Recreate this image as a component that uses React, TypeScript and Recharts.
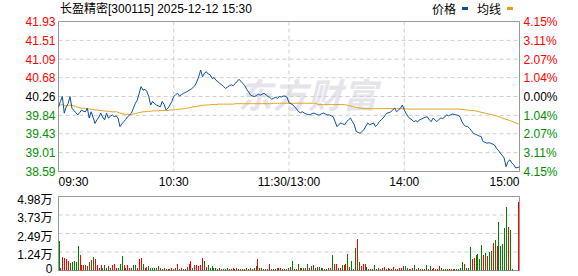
import React from 'react';
import { LineChart, Line, XAxis, YAxis, CartesianGrid, ReferenceArea, BarChart, Bar, Cell } from 'recharts';

const title = '长盈精密[300115] 2025-12-12 15:30';
const prevClose = 40.26;
const priceTicks = [38.59, 39.01, 39.43, 39.84, 40.26, 40.68, 41.09, 41.51, 41.93];
const pctTickLabels = ['4.15%', '3.11%', '2.07%', '1.04%', '0.00%', '1.04%', '2.07%', '3.11%', '4.15%'];
const volTicks = [0, 12450, 24900, 37350, 49800];
const volTickLabels = ['0', '1.24万', '2.49万', '3.73万', '4.98万'];
const xTicks = ['09:30', '10:30', '11:30', '14:00', '15:00'];
const xTickLabels = ['09:30', '10:30', '11:30/13:00', '14:00', '15:00'];

const price = [
  40.03, 40.15, 40.26, 39.89, 40.03, 40.10, 40.26, 40.00, 39.95, 39.90,
  39.85, 39.90, 39.96, 39.93, 39.92, 40.00, 39.78, 39.92, 39.80, 39.66,
  39.74, 39.80, 39.89, 39.80, 39.74, 39.89, 39.78, 39.82, 39.85, 39.81,
  39.83, 39.78, 39.59, 39.65, 39.70, 39.75, 39.81, 39.85, 39.89, 40.00,
  40.11, 40.18, 40.33, 40.48, 40.40, 40.42, 40.37, 40.26, 40.07, 40.15,
  40.10, 40.07, 40.05, 40.03, 40.15, 40.08, 39.96, 40.00, 40.07, 40.15,
  40.26, 40.30, 40.33, 40.27, 40.30, 40.33, 40.35, 40.37, 40.40, 40.42,
  40.46, 40.50, 40.59, 40.70, 40.85, 40.70, 40.78, 40.81, 40.76, 40.74,
  40.66, 40.68, 40.62, 40.59, 40.55, 40.52, 40.48, 40.44, 40.47, 40.50,
  40.52, 40.50, 40.55, 40.60, 40.64, 40.60, 40.55, 40.50, 40.42, 40.36,
  40.29, 40.27, 40.26, 40.28, 40.31, 40.29, 40.31, 40.33, 40.30, 40.26,
  40.24, 40.20, 40.22, 40.24, 40.22, 40.26, 40.25, 40.27, 40.27, 40.24,
  40.12,
  40.10, 40.07, 40.03, 39.98, 39.92, 39.90, 39.92, 39.89, 39.87, 39.86,
  39.85, 39.88, 39.89, 39.87, 39.85, 39.85, 39.88, 39.89, 39.87, 39.85,
  39.85, 39.83, 39.81, 39.70, 39.59, 39.64, 39.67, 39.65, 39.63, 39.70,
  39.74, 39.78, 39.70, 39.63, 39.48, 39.46, 39.44, 39.48, 39.52, 39.60,
  39.67, 39.63, 39.65, 39.67, 39.59, 39.63, 39.70, 39.74, 39.78, 39.84,
  39.89, 39.90, 39.92, 39.96, 40.00, 39.92, 39.96, 40.00, 40.07, 39.96,
  39.88, 39.81, 39.77, 39.74, 39.70, 39.72, 39.70, 39.74, 39.76, 39.78,
  39.80, 39.81, 39.74, 39.70, 39.78, 39.74, 39.70, 39.75, 39.78, 39.77,
  39.80, 39.85, 39.83, 39.85, 39.87, 39.86, 39.85, 39.84, 39.81, 39.70,
  39.63, 39.60, 39.59, 39.55, 39.50, 39.44, 39.42, 39.40, 39.38, 39.37,
  39.26, 39.24, 39.22, 39.23, 39.22, 39.20, 39.18, 39.11, 39.06, 39.00,
  38.95, 38.89, 38.70, 38.81, 38.85, 38.78, 38.74, 38.67, 38.68, 38.69,
];

const avgPrice = [
  40.05, 40.07, 40.08, 40.06, 40.05, 40.05, 40.07, 40.06, 40.05, 40.04,
  40.02, 40.01, 40.00, 40.00, 39.99, 39.99, 39.98, 39.98, 39.97, 39.96,
  39.96, 39.95, 39.95, 39.94, 39.94, 39.93, 39.93, 39.93, 39.92, 39.92,
  39.92, 39.91, 39.89, 39.88, 39.87, 39.86, 39.86, 39.86, 39.86, 39.87,
  39.88, 39.89, 39.90, 39.91, 39.92, 39.92, 39.93, 39.93, 39.93, 39.94,
  39.94, 39.94, 39.94, 39.95, 39.95, 39.95, 39.95, 39.95, 39.96, 39.96,
  39.96, 39.97, 39.97, 39.98, 39.98, 39.99, 39.99, 40.00, 40.01, 40.02,
  40.03, 40.03, 40.04, 40.05, 40.06, 40.06, 40.07, 40.07, 40.07, 40.08,
  40.08, 40.08, 40.08, 40.09, 40.09, 40.09, 40.09, 40.09, 40.09, 40.09,
  40.09, 40.09, 40.10, 40.10, 40.10, 40.10, 40.10, 40.10, 40.10, 40.10,
  40.10, 40.10, 40.10, 40.10, 40.10, 40.10, 40.10, 40.10, 40.10, 40.10,
  40.10, 40.10, 40.11, 40.11, 40.11, 40.11, 40.11, 40.11, 40.11, 40.11,
  40.11,
  40.11, 40.11, 40.11, 40.11, 40.11, 40.11, 40.11, 40.11, 40.11, 40.11,
  40.11, 40.11, 40.11, 40.11, 40.08, 40.08, 40.08, 40.08, 40.08, 40.08,
  40.08, 40.08, 40.08, 40.08, 40.08, 40.08, 40.08, 40.08, 40.08, 40.07,
  40.06, 40.05, 40.04, 40.03, 40.02, 40.01, 40.00, 40.00, 39.99, 39.99,
  39.99, 39.99, 39.99, 39.99, 39.99, 39.99, 39.99, 39.99, 39.99, 39.99,
  39.99, 39.99, 39.99, 39.99, 39.99, 39.99, 39.99, 39.99, 39.99, 39.99,
  39.98, 39.98, 39.98, 39.98, 39.98, 39.98, 39.98, 39.98, 39.98, 39.98,
  39.98, 39.98, 39.98, 39.98, 39.98, 39.98, 39.98, 39.98, 39.98, 39.98,
  39.98, 39.98, 39.98, 39.98, 39.98, 39.98, 39.98, 39.98, 39.98, 39.97,
  39.97, 39.96, 39.96, 39.95, 39.95, 39.95, 39.94, 39.93, 39.92, 39.91,
  39.90, 39.89, 39.88, 39.87, 39.86, 39.85, 39.84, 39.83, 39.81, 39.80,
  39.78, 39.77, 39.75, 39.74, 39.72, 39.71, 39.69, 39.67, 39.66, 39.64,
];

const volume = [
  19700, 1500, 8800, 8400, 7500, 6100, 5000, 5700, 6100, 5400,
  16300, 10200, 3400, 3800, 3400, 2900, 5400, 6800, 8800, 7500,
  3400, 1600, 3400, 2000, 3400, 1600, 2700, 1600, 3400, 4700,
  2000, 2000, 4100, 9500, 3400, 2000, 3800, 2000, 2000, 3800,
  3800, 2000, 7500, 8100, 4700, 2000, 2500, 2700, 2000, 2000,
  2000, 2000, 2700, 2000, 1100, 2000, 1100, 700, 700, 1400,
  700, 1400, 4700, 700, 1600, 700, 900, 2500, 4100, 6100,
  1600, 3400, 3400, 3200, 3800, 8100, 6100, 2500, 3400, 2000,
  2700, 2000, 1600, 1100, 1600, 700, 900, 700, 2000, 700,
  1100, 2000, 700, 1600, 1100, 700, 700, 1100, 2000, 700,
  2000, 1100, 2000, 2900, 7500, 2000, 1600, 700, 700, 700,
  4700, 700, 700, 700, 1600, 2000, 2000, 700, 700, 700,
  2000,
  2500, 6100, 700, 700, 4300, 1600, 1600, 1600, 1600, 4700,
  1600, 2900, 3400, 2000, 2500, 2500, 2000, 2000, 700, 700,
  1600, 1600, 10200, 4700, 4700, 1600, 2000, 3800, 3800, 4700,
  10800, 2500, 6100, 700, 14900, 21000, 5400, 2900, 4700, 4300,
  2500, 1100, 700, 900, 3400, 700, 1600, 700, 2000, 2500,
  700, 1600, 700, 700, 2500, 700, 1100, 1600, 2000, 2900,
  2900, 2000, 700, 700, 1600, 3400, 700, 1600, 700, 1100,
  700, 3800, 700, 2900, 700, 1600, 700, 1100, 2900, 1600,
  700, 700, 700, 700, 700, 700, 700, 1100, 700, 1600,
  5700, 4300, 1600, 1600, 15600, 7700, 8100, 10200, 10800, 7500,
  17000, 10200, 11500, 9700, 12400, 13300, 18300, 20300, 16300, 32500,
  16300, 17600, 28500, 42700, 29200, 27100, 700, 0, 0, 46100,
];

// u = minute closed up (red bar), d = minute closed down (green bar)
const volumeDirection = (
  'duuuuudddd duuudududu uuuddduduu uddduduuud duuuduuddd ddududuudu ' +
  'ududududuu duuuuududd dddududddu uuduuduudu dudduuuddu ududduudud u ' +
  'dduuddudud ududduddud udduududuu duddduduuu dduudduduu duduuduuuu ' +
  'ddudududuu dduduuduud udduududdd duddduuddd dududdudud ddddudduuu'
).replace(/ /g, '').split('');

const minutes: string[] = [];
for (let m = 9 * 60 + 30; m <= 11 * 60 + 30; m++) minutes.push(fmt(m));
for (let m = 13 * 60 + 1; m <= 15 * 60; m++) minutes.push(fmt(m));
function fmt(m: number) {
  const h = Math.floor(m / 60);
  const mm = m % 60;
  return `${h < 10 ? '0' : ''}${h}:${mm < 10 ? '0' : ''}${mm}`;
}

const rows = minutes.map((t, i) => ({
  t,
  price: price[i],
  avg: avgPrice[i],
  vol: volume[i],
  dir: volumeDirection[i],
}));

const RED = '#ff0000';
const GREEN_TEXT = '#009000';
const GREEN_BAR = '#008000';
const GRID = '#cfcfcf';
const FRAME = '#999999';
const NUM_FONT = '"Liberation Sans", Arial, "Noto Sans CJK SC", sans-serif';
const CJK_FONT = '"Noto Sans CJK SC", "Liberation Sans", sans-serif';
const TITLE_FONT = '"Liberation Sans", "Noto Sans CJK SC", sans-serif';

const colorFor = (v: number) =>
  v > prevClose + 1e-6 ? RED : v < prevClose - 1e-6 ? GREEN_TEXT : '#000000';

const LeftTick = (props: any) => {
  const { x, y, payload } = props;
  const v = Number(payload.value);
  return (
    <text x={x} y={y + 4.5} textAnchor="end" fill={colorFor(v)} fontSize={12} fontFamily={NUM_FONT}>
      {v.toFixed(2)}
    </text>
  );
};

const RightTick = (props: any) => {
  const { x, y, payload } = props;
  const v = Number(payload.value);
  const idx = priceTicks.indexOf(v);
  return (
    <text x={x} y={y + 4.5} textAnchor="start" fill={colorFor(v)} fontSize={12} fontFamily={NUM_FONT}>
      {pctTickLabels[idx]}
    </text>
  );
};

const TimeTick = (props: any) => {
  const { x, y, payload } = props;
  const idx = xTicks.indexOf(payload.value);
  const anchor = idx === 0 ? 'start' : idx === xTicks.length - 1 ? 'end' : 'middle';
  return (
    <text x={x} y={y + 14.5} textAnchor={anchor} fill="#000" fontSize={12} fontFamily={NUM_FONT}>
      {xTickLabels[idx]}
    </text>
  );
};

const VolTick = (props: any) => {
  const { x, y, payload } = props;
  const v = Number(payload.value);
  const idx = volTicks.indexOf(v);
  return (
    <text x={x} y={v === 0 ? y + 2.5 : y + 7} textAnchor="end" fill="#000" fontSize={12} fontFamily={NUM_FONT}>
      {volTickLabels[idx]}
    </text>
  );
};

export default function App() {
  return (
    <div style={{ position: 'absolute', left: 0, top: 0, width: 578, height: 276, background: '#fff', overflow: 'hidden' }}>
      <div
        style={{
          position: 'absolute', left: 238, top: 77, fontSize: 34, lineHeight: '34px', fontWeight: 700,
          fontStyle: 'italic', color: '#e4e4ea', fontFamily: CJK_FONT, letterSpacing: 1, whiteSpace: 'nowrap',
        }}
      >
        东方财富
      </div>
      <div style={{ position: 'absolute', left: 60, top: 0, fontSize: 12, lineHeight: '18px', fontFamily: TITLE_FONT, color: '#000', whiteSpace: 'nowrap' }}>
        {title}
      </div>
      <div style={{ position: 'absolute', left: 432, top: 0, fontSize: 12, lineHeight: '18px', fontFamily: CJK_FONT, color: '#000' }}>价格</div>
      <div style={{ position: 'absolute', left: 462, top: 7, width: 6, height: 3, background: '#0b4ea2' }} />
      <div style={{ position: 'absolute', left: 477, top: 0, fontSize: 12, lineHeight: '18px', fontFamily: CJK_FONT, color: '#000' }}>均线</div>
      <div style={{ position: 'absolute', left: 507, top: 7, width: 6, height: 3, background: '#e2a11c' }} />

      <div style={{ position: 'absolute', left: 0, top: 0 }}>
        <LineChart width={578} height={192} data={rows} margin={{ top: 21.5, right: 0, bottom: 0, left: 0 }}>
          <XAxis
            dataKey="t" ticks={xTicks} interval={0} tick={<TimeTick />} tickLine={false} axisLine={false}
            height={20.5} tickSize={0} tickMargin={0}
          />
          <YAxis
            yAxisId="left" type="number" domain={[38.59, 41.93]} ticks={priceTicks} interval={0} allowDataOverflow
            width={58.5} tick={<LeftTick />} tickLine={false} axisLine={false} tickSize={0} tickMargin={3}
          />
          <YAxis
            yAxisId="right" orientation="right" type="number" domain={[38.59, 41.93]} ticks={priceTicks} interval={0}
            allowDataOverflow width={58.5} tick={<RightTick />} tickLine={false} axisLine={false} tickSize={0} tickMargin={4}
          />
          <CartesianGrid yAxisId="left" stroke={GRID} strokeDasharray="4 3" />
          <ReferenceArea yAxisId="left" y1={38.59} y2={41.93} fill="none" stroke={FRAME} strokeWidth={1} />
          <Line yAxisId="left" type="linear" dataKey="avg" stroke="#e2a11c" strokeWidth={1} dot={false} isAnimationActive={false} />
          <Line yAxisId="left" type="linear" dataKey="price" stroke="#0b4ea2" strokeWidth={1} dot={false} isAnimationActive={false} />
        </LineChart>
      </div>

      <div style={{ position: 'absolute', left: 0, top: 190 }}>
        <BarChart width={578} height={86} data={rows} margin={{ top: 6.5, right: 58.5, bottom: 5.5, left: 0 }} barCategoryGap={0}>
          <XAxis dataKey="t" ticks={['10:30', '11:30', '14:00']} interval={0} tick={false} axisLine={false} tickLine={false} height={0} />
          <YAxis
            type="number" domain={[0, 49800]} ticks={volTicks} interval={0} allowDataOverflow width={58.5}
            tick={<VolTick />} tickLine={false} axisLine={false} tickSize={0} tickMargin={6}
          />
          <CartesianGrid stroke={GRID} strokeDasharray="4 3" />
          <ReferenceArea y1={0} y2={49800} fill="none" stroke={FRAME} strokeWidth={1} />
          <Bar dataKey="vol" barSize={1} isAnimationActive={false} style={{ shapeRendering: 'crispEdges' }}>
            {rows.map((r, i) => (
              <Cell key={i} fill={r.dir === 'u' ? RED : GREEN_BAR} />
            ))}
          </Bar>
        </BarChart>
      </div>
    </div>
  );
}
